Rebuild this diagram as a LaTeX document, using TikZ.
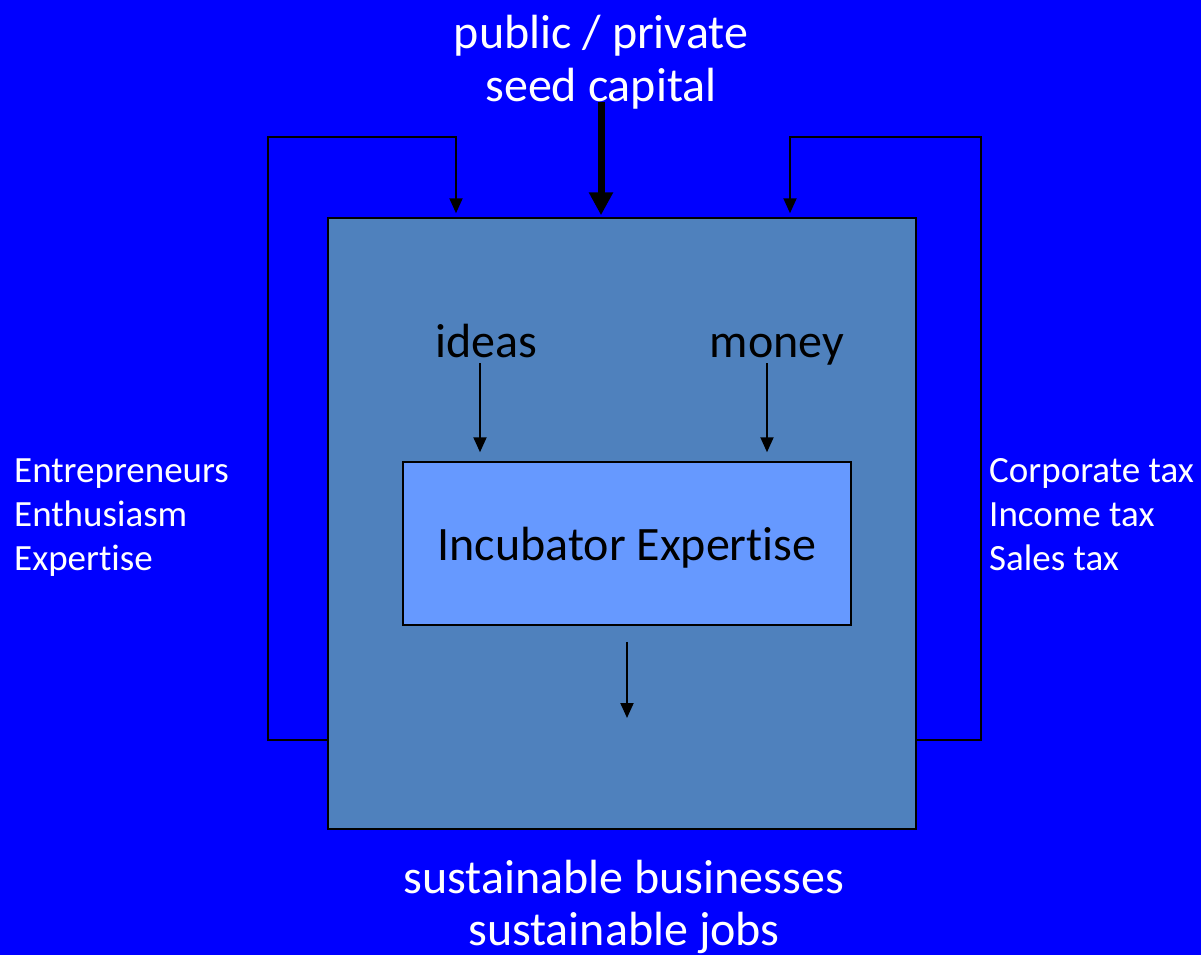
\documentclass[tikz,border=0pt]{standalone}
\usepackage{fontspec}
\setmainfont{Carlito}[Ligatures=NoCommon]
\usetikzlibrary{positioning, arrows.meta, calc}
\definecolor{slide}{RGB}{0,0,255}
\definecolor{outerfill}{RGB}{79,129,189}
\definecolor{innerfill}{RGB}{102,153,255}

\begin{document}
\begin{tikzpicture}[x=1pt,y=-1pt,
        txt/.style={text=white, inner sep=0pt, anchor=base},
        big/.style={font=\fontsize{48}{53}\selectfont, align=center},
        side/.style={font=\fontsize{37}{44}\selectfont, align=left, anchor=base west},
        box/.style={draw=black, line width=1.5pt, inner sep=0pt},
        flow/.style={line width=2pt, -{Triangle[width=13pt,length=15pt]}},
        seedflow/.style={line width=7pt, -{Triangle[width=23pt,length=23pt]}}
    ]
        \fill[slide] (0,0) rectangle (1201,955);
        \useasboundingbox (0,0) rectangle (1201,955);

        \node[box, fill=outerfill, minimum width=588pt, minimum height=611pt] (incubator) at (622,523.5) {};
        \node[box, fill=innerfill, minimum width=448pt, minimum height=163pt, text depth=0pt,
            font=\fontsize{48}{56}\selectfont] (expertise) at (627,543.5) {Incubator Expertise};

        % last line of each block sits on the anchor
        \node[txt, big] (seed) at (601,102) {public / private\\seed capital};
        \node[txt, big, font=\fontsize{48}{52}\selectfont] (result) at (624,945) {sustainable businesses\\sustainable jobs};
        \node[txt, font=\fontsize{48}{56}\selectfont, text=black] (ideas) at (486,357) {ideas};
        \node[txt, font=\fontsize{48}{56}\selectfont, text=black] (money) at (777,357) {money};
        \node[txt, side] (people) at (14,570) {Entrepreneurs\\Enthusiasm\\Expertise};
        \node[txt, side] (taxes) at (989,570) {Corporate tax\\Income tax\\Sales tax};

        \coordinate (out) at (627,718);

        \draw[seedflow, shorten >=2pt] ([yshift=8pt]seed.south -| 601,0) -- (incubator.north -| 601,0);
        \draw[flow, shorten >=4pt] (incubator.west |- 0,740) -- (268,740) -- (268,137) -- (456,137)
            -- (incubator.north -| 456,0);
        \draw[flow, shorten >=4pt] (incubator.east |- 0,740) -- (981,740) -- (981,137) -- (790,137)
            -- (incubator.north -| 790,0);
        \draw[flow, shorten >=9pt] ([yshift=-6pt]ideas.base -| 480,0) -- (expertise.north -| 480,0);
        \draw[flow, shorten >=9pt] ([yshift=-6pt]money.base -| 767,0) -- (expertise.north -| 767,0);
        \draw[flow, shorten <=16pt] (expertise.south -| out) -- (out);
\end{tikzpicture}
\end{document}
